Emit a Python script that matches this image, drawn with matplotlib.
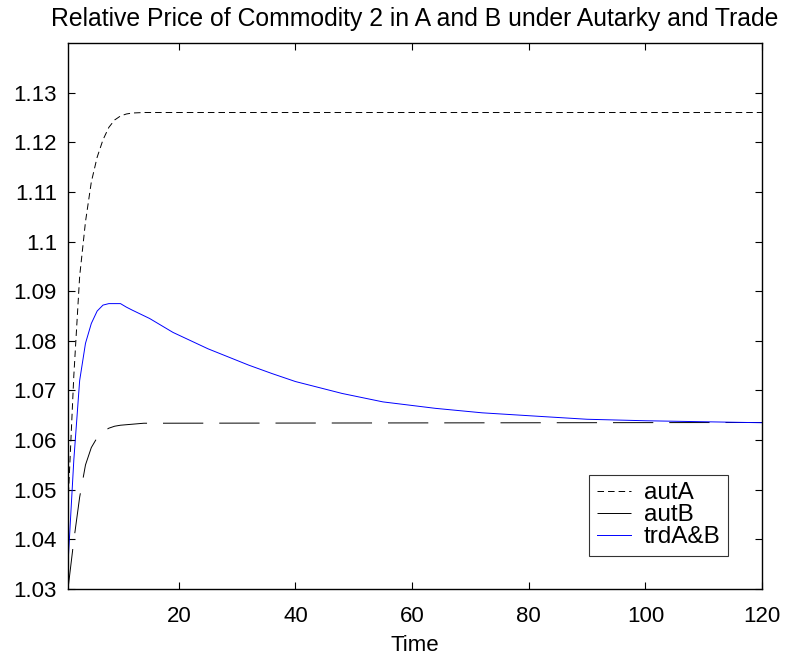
import matplotlib
matplotlib.use("Agg")
import matplotlib.pyplot as plt

# values
t_autA = [1, 2, 3, 4, 5, 6, 7, 8, 9, 10, 11, 12, 14, 120]
autA = [1.047, 1.073, 1.093, 1.104, 1.112, 1.117, 1.1205, 1.123, 1.1245,
        1.1253, 1.1257, 1.1259, 1.126, 1.126]

t_autB = [1, 2, 3, 4, 5, 6, 7, 8, 9, 10, 12, 14, 120]
autB = [1.030, 1.0398, 1.0485, 1.055, 1.0585, 1.0605, 1.0617, 1.0624,
        1.0628, 1.0630, 1.0632, 1.0634, 1.06355]

t_trd = [1, 2, 3, 4, 5, 6, 7, 8, 10, 11, 12, 15, 19, 25, 32, 36, 40, 48,
         55, 64, 72, 83, 90, 100, 110, 120]
trd = [1.035, 1.056, 1.072, 1.0795, 1.0835, 1.086, 1.0872, 1.0875, 1.0875,
       1.0868, 1.0862, 1.0845, 1.0817, 1.0784, 1.0751, 1.0734, 1.0718,
       1.0694, 1.0677, 1.0664, 1.0655, 1.0647, 1.0642, 1.0639, 1.0637, 1.0635]

yticks = [1.03, 1.04, 1.05, 1.06, 1.07, 1.08, 1.09, 1.1, 1.11, 1.12, 1.13]
ytick_labels = ['1.03', '1.04', '1.05', '1.06', '1.07', '1.08', '1.09',
                '1.1', '1.11', '1.12', '1.13']
xticks = [20, 40, 60, 80, 100, 120]

plt.rcParams['font.family'] = ['Liberation Sans', 'DejaVu Sans']
plt.rcParams['lines.scale_dashes'] = False

fig = plt.figure(figsize=(7.86, 6.59), dpi=100)
ax = fig.add_axes([0.0865, 0.1062, 0.883, 0.8285])

ax.plot(t_autA, autA, color='black', linewidth=0.7, dashes=(4.7, 2.9), label='autA')
ax.plot(t_autB, autB, color='black', linewidth=0.7, dashes=(29, 11.5), label='autB')
ax.plot(t_trd, trd, color='blue', linewidth=0.7, label='trdA&B')

ax.set_xlim(1, 120)
ax.set_ylim(1.03, 1.14)
ax.set_xticks(xticks)
ax.set_yticks(yticks)
ax.set_yticklabels(ytick_labels)
ax.tick_params(direction='in', labelsize=16, length=5, width=0.8,
               top=True, right=True)
ax.tick_params(axis='x', pad=12)
ax.tick_params(axis='y', pad=8)
for s in ax.spines.values():
    s.set_linewidth(1.0)

ax.set_title('Relative Price of Commodity 2 in A and B under Autarky and Trade',
             fontsize=17.8, pad=12)
ax.set_xlabel('Time', fontsize=16, labelpad=6)

leg = ax.legend(loc='lower right', bbox_to_anchor=(0.951, 0.061), fontsize=17.5,
                frameon=True, fancybox=False, edgecolor='black',
                handlelength=1.4, handletextpad=0.55, labelspacing=0.0,
                borderpad=0.3, borderaxespad=0)
leg.get_frame().set_linewidth(0.8)

fig.savefig('out.png', dpi=100)
